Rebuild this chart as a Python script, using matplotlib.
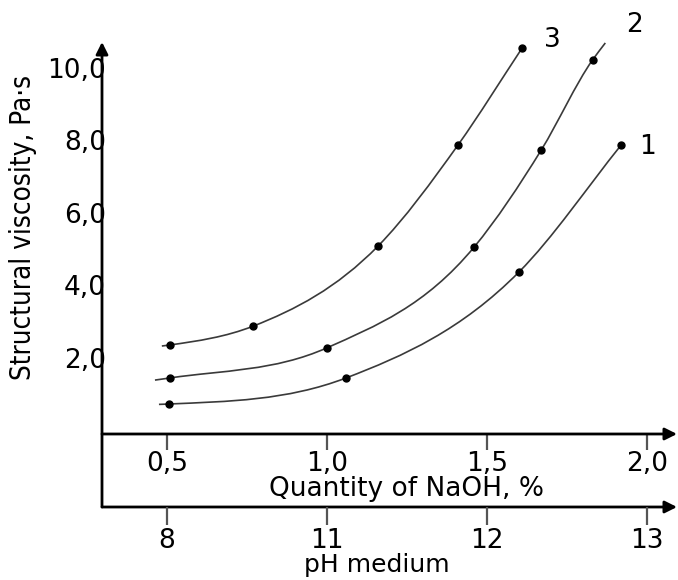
import numpy as np
import matplotlib
matplotlib.use("Agg")
from matplotlib import pyplot as plt
from matplotlib.path import Path
from matplotlib.patches import PathPatch

# measured points (NaOH %, structural viscosity Pa*s)
naoh_1 = [0.505, 1.06, 1.60, 1.92]
visc_1 = [0.73, 1.45, 4.37, 7.88]
naoh_2 = [0.51, 1.00, 1.46, 1.67, 1.83]
visc_2 = [1.45, 2.28, 5.06, 7.74, 10.22]
naoh_3 = [0.51, 0.77, 1.16, 1.41, 1.61]
visc_3 = [2.36, 2.88, 5.09, 7.88, 10.55]

# where each drawn curve starts / ends beyond the dots
start_1 = (0.475, 0.72)
start_2 = (0.4625, 1.39)
start_3 = (0.484, 2.33)
end_2 = (1.87, 10.69)

curve_labels = ["1", "2", "3"]
label_pos = [(2.003, 7.82), (1.9625, 11.19), (1.706, 10.77)]

naoh_ticks = [0.5, 1.0, 1.5, 2.0]
naoh_ticklabels = ["0,5", "1,0", "1,5", "2,0"]
ph_ticklabels = ["8", "11", "12", "13"]
visc_ticks = [2, 4, 6, 8, 10]
visc_ticklabels = ["2,0", "4,0", "6,0", "8,0", "10,0"]


def smooth_path(xs, ys):
    # cubic hermite through the points, written as bezier segments
    x = np.asarray(xs, float)
    y = np.asarray(ys, float)
    h = np.diff(x)
    s = np.diff(y) / h
    d = np.empty_like(x)
    d[0], d[-1] = s[0], s[-1]
    d[1:-1] = (h[:-1] * s[1:] + h[1:] * s[:-1]) / (h[:-1] + h[1:])
    verts = [(x[0], y[0])]
    codes = [Path.MOVETO]
    for i in range(len(x) - 1):
        verts += [(x[i] + h[i] / 3, y[i] + d[i] * h[i] / 3),
                  (x[i + 1] - h[i] / 3, y[i + 1] - d[i + 1] * h[i] / 3),
                  (x[i + 1], y[i + 1])]
        codes += [Path.CURVE4] * 3
    return Path(verts, codes)


fs = 19
fig = plt.figure(figsize=(6.78, 5.8), dpi=100)
ax = fig.add_axes([102 / 678, 1 - 434 / 580, 575 / 678, 392 / 580])
ax.set_xlim(0.297, 2.094)
ax.set_ylim(-0.097, 10.716)
for s in ax.spines.values():
    s.set_visible(False)

curves = [
    ([start_1[0]] + naoh_1, [start_1[1]] + visc_1, naoh_1, visc_1),
    ([start_2[0]] + naoh_2 + [end_2[0]], [start_2[1]] + visc_2 + [end_2[1]], naoh_2, visc_2),
    ([start_3[0]] + naoh_3, [start_3[1]] + visc_3, naoh_3, visc_3),
]
for lx, ly, px, py in curves:
    ax.add_patch(PathPatch(smooth_path(lx, ly), fill=False, ec="#3a3a3a", lw=1.2))
    ax.plot(px, py, "o", color="k", ms=5, zorder=3)

for lab, (x, y) in zip(curve_labels, label_pos):
    ax.text(x, y, lab, fontsize=fs, ha="center", va="center")

# axes with arrows
low = -73 / 392
arrow = dict(arrowstyle="-|>", lw=2, color="k", mutation_scale=18, shrinkA=0, shrinkB=0)
ax.annotate("", xy=(0, 1), xytext=(0, low), xycoords="axes fraction", arrowprops=arrow)
ax.annotate("", xy=(1, 0), xytext=(0, 0), xycoords="axes fraction", arrowprops=arrow)
ax.annotate("", xy=(1, low), xytext=(0, low), xycoords="axes fraction", arrowprops=arrow)

ax.set_xticks(naoh_ticks)
ax.set_xticklabels(naoh_ticklabels, fontsize=fs)
ax.tick_params(axis="x", direction="out", length=11.5, width=1.6, color="#555555", pad=1)
ax.set_yticks(visc_ticks)
ax.set_yticklabels(visc_ticklabels, fontsize=fs)
ax.tick_params(axis="y", length=0, pad=-3)

ax2 = fig.add_axes([102 / 678, 1 - 507 / 580, 575 / 678, 0.0001])
ax2.set_xlim(ax.get_xlim())
ax2.set_yticks([])
for s in ax2.spines.values():
    s.set_visible(False)
ax2.set_xticks(naoh_ticks)
ax2.set_xticklabels(ph_ticklabels, fontsize=fs)
ax2.tick_params(axis="x", direction="out", length=13, width=1.6, color="#555555", pad=2)
ax2.patch.set_visible(False)

ax.text(0.529, -0.14, "Quantity of NaOH, %", transform=ax.transAxes,
        ha="center", va="center", fontsize=fs)
ax.text(0.478, -0.334, "pH medium", transform=ax.transAxes,
        ha="center", va="center", fontsize=18)
ax.text(-0.138, 0.528, "Structural viscosity, Pa·s", transform=ax.transAxes,
        ha="center", va="center", rotation=90, fontsize=20,
        fontstretch="condensed")

fig.savefig("out.png", dpi=100)
